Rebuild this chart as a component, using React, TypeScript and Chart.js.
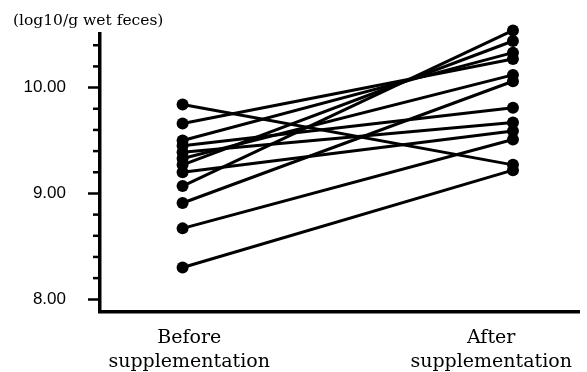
import React, { useEffect, useRef } from "react";
import { Chart, registerables } from "chart.js";

Chart.register(...registerables);

// ---- data ----
const categoryLabels: string[][] = [
  ["Before", "supplementation"],
  ["After", "supplementation"],
];
const beforeValues = [9.84, 9.66, 9.5, 9.45, 9.39, 9.33, 9.27, 9.2, 9.07, 8.91, 8.67, 8.3];
const afterValues = [9.27, 10.27, 10.33, 9.81, 9.67, 10.12, 10.44, 9.59, 10.54, 10.06, 9.51, 9.22];
const majorTickValues = [8, 9, 10];
const minorTickValues = [8.2, 8.4, 8.6, 8.8, 9.2, 9.4, 9.6, 9.8, 10.2, 10.4];
const unitTitle = "(log10/g wet feces)";

const minorTickPlugin = {
  id: "minorTicks",
  afterDraw(chart: any) {
    const y = chart.scales.y;
    const ctx = chart.ctx;
    ctx.save();
    ctx.strokeStyle = "#000";
    ctx.lineWidth = 2.5;
    for (const v of minorTickValues) {
      const py = y.getPixelForValue(v);
      ctx.beginPath();
      ctx.moveTo(y.right - 7, py);
      ctx.lineTo(y.right, py);
      ctx.stroke();
    }
    ctx.restore();
  },
};

export default function App() {
  const ref = useRef<HTMLCanvasElement | null>(null);

  useEffect(() => {
    if (!ref.current) return;
    const datasets = beforeValues.map((b, i) => ({
      label: "S" + (i + 1),
      data: [
        { x: 0, y: b },
        { x: 1, y: afterValues[i] },
      ],
      borderColor: "#000",
      backgroundColor: "#000",
      borderWidth: 3,
      pointRadius: 6,
      pointBorderWidth: 0,
      pointBackgroundColor: "#000",
      clip: false as any,
      showLine: true,
    }));

    const chart = new Chart(ref.current, {
      type: "scatter",
      data: { datasets },
      plugins: [minorTickPlugin],
      options: {
        animation: false,
        responsive: false,
        layout: { padding: { left: 13, right: 5, top: 0, bottom: 0 } },
        plugins: {
          legend: { display: false },
          tooltip: { enabled: false },
          title: {
            display: true,
            text: unitTitle,
            align: "start",
            color: "#000",
            font: { family: "DejaVu Serif", size: 15.5, lineHeight: 1.2, weight: "normal" },
            padding: { top: 12, bottom: 3 },
          },
        },
        scales: {
          x: {
            type: "linear",
            min: -0.25,
            max: 1.2,
            afterBuildTicks: (scale: any) => {
              scale.ticks = [{ value: 0.02 }, { value: 0.934 }];
            },
            afterFit: (scale: any) => {
              scale.height = 60;
            },
            grid: { display: true, drawOnChartArea: false, drawTicks: false },
            border: { display: true, color: "#000", width: 3.5 },
            ticks: {
              autoSkip: false,
              maxRotation: 0,
              padding: 14,
              color: "#000",
              font: { family: "DejaVu Serif", size: 19, lineHeight: 1.25 },
              callback: (_v: any, i: number) => categoryLabels[i],
            },
          },
          y: {
            type: "linear",
            min: 7.88,
            max: 10.51,
            afterBuildTicks: (scale: any) => {
              scale.ticks = majorTickValues.map((v) => ({ value: v }));
            },
            afterFit: (scale: any) => {
              scale.width = 87;
            },
            grid: {
              display: true,
              drawOnChartArea: false,
              drawTicks: true,
              tickLength: 12,
              tickWidth: 2.5,
              tickColor: "#000",
            },
            border: { display: true, color: "#000", width: 3.5 },
            ticks: {
              padding: 22,
              color: "#000",
              font: { family: "Liberation Sans", size: 17 },
              callback: (v: any) => Number(v).toFixed(2),
            },
          },
        },
      },
    });
    return () => chart.destroy();
  }, []);

  return (
    <div style={{ position: "fixed", left: 0, top: 0, width: 587, height: 372, background: "#fff" }}>
      <canvas ref={ref} width={587} height={372} />
    </div>
  );
}
